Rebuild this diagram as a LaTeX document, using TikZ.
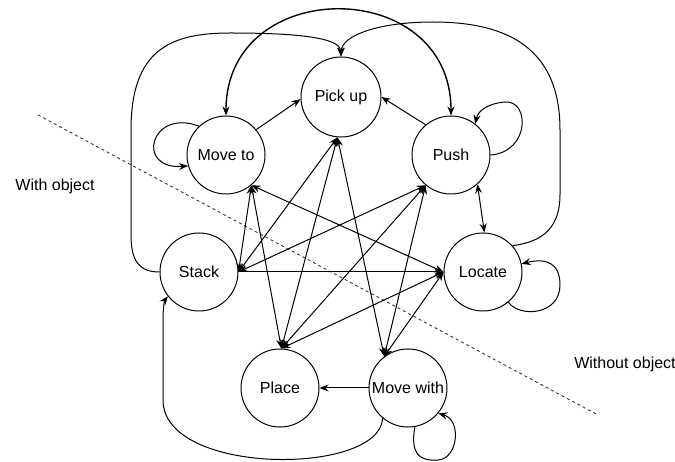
\documentclass[tikz,border=0pt]{standalone}
\usepackage{fontspec}
\setmainfont{Liberation Sans}
\usetikzlibrary{arrows.meta}

\begin{document}
\begin{tikzpicture}[x=1pt,y=-1pt,
    state/.style={draw,circle,line width=1pt,minimum size=78pt,inner sep=0pt,font=\fontsize{16}{19}\selectfont},
    oneway/.style={line width=1pt,-{Stealth[length=9pt,width=7pt]}},
    twoway/.style={line width=1pt,{Stealth[length=9pt,width=7pt]}-{Stealth[length=9pt,width=7pt]}}]
    \useasboundingbox (0,0) rectangle (675,462);
    % states
    \node[state,minimum size=80pt] (pickup) at (341,97) {Pick up};
    \node[state] (moveto) at (226,155) {Move to};
    \node[state] (push) at (451,155) {Push};
    \node[state] (stack) at (199,272) {Stack};
    \node[state] (locate) at (483,272) {Locate};
    \node[state] (place) at (280,388) {Place};
    \node[state] (movewith) at (408,388) {Move with};
    % border between the two groups
    \coordinate (cutA) at (38,115);
    \coordinate (cutB) at (598,415);
    \draw[line width=0.9pt,black!80,dash pattern=on 3pt off 3pt] (cutA) -- (cutB);
    \node[font=\fontsize{16}{19}\selectfont] (withobj) at (55,186) {With object};
    \node[font=\fontsize{16}{19}\selectfont] (withoutobj) at (625,364) {Without object};
    % short links
    \draw[oneway] (moveto.40) -- (pickup.183);
    \draw[oneway] (push.130) -- (pickup.east);
    \draw[oneway] (movewith.west) -- (place.east);
    \draw[twoway] (push.-48) -- (locate.88);
    \draw[oneway] (stack.east) -- (locate.west);
    % crossing links
    \draw[twoway] (moveto.-50) -- (stack.east);
    \draw[twoway] (moveto.-50) -- (place.88);
    \draw[twoway] (moveto.-50) -- (locate.west);
    \draw[twoway] (pickup.265) -- (stack.east);
    \draw[twoway] (pickup.265) -- (place.88);
    \draw[twoway] (pickup.265) -- (movewith.127);
    \draw[twoway] (push.230) -- (stack.east);
    \draw[twoway] (push.230) -- (place.88);
    \draw[twoway] (push.230) -- (movewith.127);
    \draw[twoway] (place.88) -- (locate.west);
    \draw[twoway] (movewith.127) -- (locate.west);
    % long curves
    \draw[twoway,line width=1.4pt] (moveto.north) .. controls (226,-25) and (451,-25) .. (push.north);
    \draw[oneway] (stack.west) .. controls (140,272) and (131,262) .. (131,235) -- (131,130)
      .. controls (131,50) and (170,33) .. (230,33) .. controls (300,33) and (340,38) .. (pickup.north);
    \draw[oneway] (locate.42) .. controls (545,242) and (560,225) .. (560,195) -- (560,130)
      .. controls (560,50) and (510,22) .. (433,22) .. controls (380,22) and (342,35) .. (pickup.north);
    \draw[oneway] (movewith.-130) .. controls (380,476) and (163,476) .. (163,400) -- (163,320)
      .. controls (163,305) and (165,300) .. (stack.218);
    % self loops
    \draw[oneway] (moveto.133) .. controls (150,108) and (135,170) .. (moveto.196);
    \draw[oneway] (push.east) .. controls (530,152) and (530,100) .. (505,102)
      .. controls (490,103) and (478,110) .. (push.52);
    \draw[oneway] (locate.-50) .. controls (520,318) and (560,315) .. (560,285)
      .. controls (560,262) and (545,258) .. (locate.12);
    \draw[oneway] (movewith.-80) .. controls (410,455) and (420,461) .. (438,460)
      .. controls (458,459) and (462,420) .. (movewith.-40);
\end{tikzpicture}
\end{document}
